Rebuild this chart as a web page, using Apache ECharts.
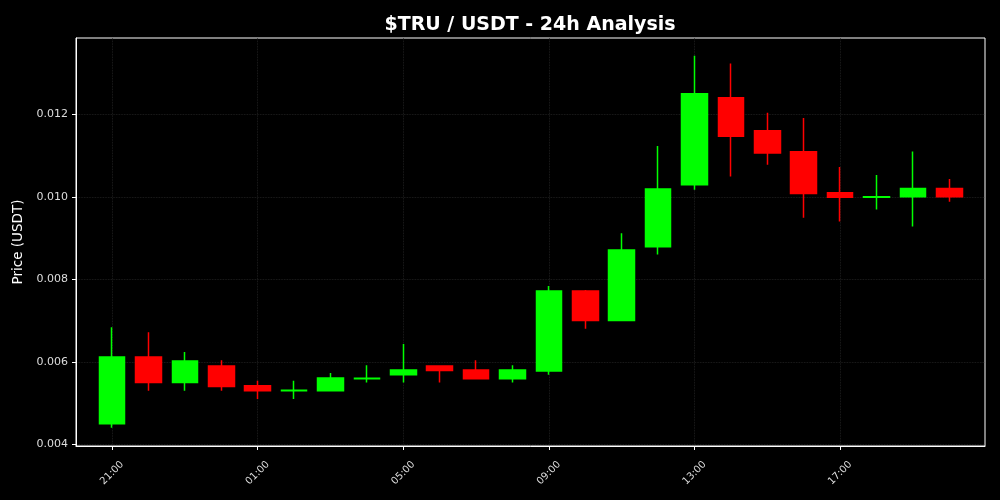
<!DOCTYPE html>
<html>
<head>
<meta charset="utf-8">
<script src="https://cdn.jsdelivr.net/npm/echarts@6/dist/echarts.min.js"></script>
<style>html,body{margin:0;padding:0;background:#000;}#c{width:1000px;height:500px;}</style>
</head>
<body>
<div id="c"></div>
<script>
// Hour labels for each candle (hourly)
const hours = ['21:00','22:00','23:00','00:00','01:00','02:00','03:00','04:00','05:00','06:00','07:00','08:00',
               '09:00','10:00','11:00','12:00','13:00','14:00','15:00','16:00','17:00','18:00','19:00','20:00'];
const opens  = [0.00450,0.00612,0.00550,0.00590,0.00542,0.00530,0.00530,0.00559,0.00569,0.00590,0.00580,0.00559,
                0.00578,0.00772,0.00700,0.00879,0.01029,0.01240,0.01160,0.01109,0.01010,0.00999,0.01000,0.01020];
const closes = [0.00612,0.00550,0.00602,0.00540,0.00530,0.00531,0.00561,0.00560,0.00580,0.00579,0.00559,0.00580,
                0.00772,0.00700,0.00871,0.01019,0.01250,0.01147,0.01106,0.01008,0.00999,0.01000,0.01020,0.01000];
const highs  = [0.00684,0.00672,0.00624,0.00604,0.00554,0.00554,0.00573,0.00592,0.00643,0.00592,0.00604,0.00592,
                0.00784,0.00774,0.00912,0.01123,0.01342,0.01323,0.01204,0.01191,0.01072,0.01053,0.01110,0.01043];
const lows   = [0.00440,0.00530,0.00530,0.00530,0.00510,0.00510,0.00530,0.00550,0.00550,0.00550,0.00559,0.00550,
                0.00569,0.00680,0.00700,0.00860,0.01017,0.01049,0.01078,0.00949,0.00940,0.00969,0.00928,0.00988];
const xTickIdx = [0,4,8,12,16,20];
const yTicks = [0.004,0.006,0.008,0.010,0.012];

const data = hours.map((h,i)=>[i, opens[i], closes[i], lows[i], highs[i]]);

const chart = echarts.init(document.getElementById('c'), null, {renderer:'canvas'});
chart.setOption({
  backgroundColor:'#000',
  animation:false,
  title:{text:'$TRU / USDT - 24h Analysis', left:525, top:11, textAlign:'center',
    textStyle:{color:'#fff', fontSize:19, fontWeight:'bold', fontFamily:'DejaVu Sans'}},
  grid:{left:76, right:15, top:38, bottom:54, show:true, borderColor:'#fff', borderWidth:1, backgroundColor:'#000'},
  xAxis:{type:'value', min:-0.99, max:23.98,
    axisLine:{show:true, onZero:false, lineStyle:{color:'#fff'}},
    axisTick:{show:true, customValues:xTickIdx, length:4, lineStyle:{color:'#fff'}},
    axisLabel:{customValues:xTickIdx, formatter:v=>hours[Math.round(v)], rotate:45, align:'center', verticalAlign:'middle',
      margin:27, color:'#ddd', fontSize:10, fontFamily:'DejaVu Sans'},
    splitLine:{show:true, lineStyle:{color:'#262626', width:0.8, type:'dotted'}}},
  yAxis:{type:'value', min:0.00396, max:0.01385, scale:true,
    name:'Price (USDT)', nameLocation:'middle', nameGap:50, nameRotate:90,
    nameTextStyle:{color:'#fff', fontSize:13.5, fontFamily:'DejaVu Sans'},
    axisLine:{show:true, onZero:false, lineStyle:{color:'#fff'}},
    axisTick:{show:true, customValues:yTicks, length:4, lineStyle:{color:'#fff'}},
    axisLabel:{customValues:yTicks, formatter:v=>v.toFixed(3), color:'#ddd', fontSize:11, fontFamily:'DejaVu Sans', margin:8},
    splitLine:{show:true, lineStyle:{color:'#262626', width:0.8, type:'dotted'}}},
  series:[{
    type:'candlestick',
    data:data,
    encode:{x:0, y:[1,2,3,4]},
    barWidth:26,
    itemStyle:{color:'#00ff00', color0:'#ff0000', borderColor:'#00ff00', borderColor0:'#ff0000', borderWidth:1.5}
  }]
});
</script>
</body>
</html>
